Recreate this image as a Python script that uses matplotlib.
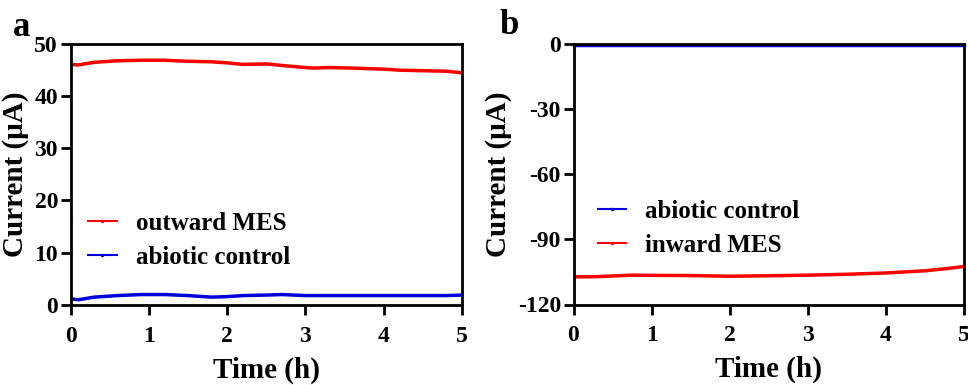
import matplotlib
matplotlib.use("Agg")
import matplotlib.pyplot as plt
from matplotlib.lines import Line2D

plt.rcParams['font.family'] = ['Liberation Serif', 'DejaVu Serif']
plt.rcParams['font.weight'] = 'bold'
plt.rcParams['axes.unicode_minus'] = False

# Panel a data
time_a = [0, 0.1, 0.3, 0.6, 0.9, 1.2, 1.5, 1.8, 2.0, 2.2, 2.5, 2.7, 3.0, 3.1, 3.3, 3.6, 4.0, 4.2, 4.5, 4.8, 5.0]
outward_mes = [46.0, 45.9, 46.4, 46.7, 46.8, 46.8, 46.6, 46.5, 46.3, 46.0, 46.1, 45.8, 45.4, 45.3, 45.4, 45.3, 45.1, 44.9, 44.8, 44.7, 44.4]
abiotic_a = [1.2, 1.0, 1.5, 1.8, 2.0, 2.0, 1.8, 1.5, 1.6, 1.8, 1.9, 2.0, 1.8, 1.8, 1.8, 1.8, 1.8, 1.8, 1.8, 1.8, 1.9]

# Panel b data
time_b = [0, 0.3, 0.75, 1.0, 1.5, 2.0, 2.5, 3.0, 3.5, 4.0, 4.5, 4.8, 5.0]
inward_mes = [-107.3, -107.2, -106.5, -106.6, -106.7, -107.0, -106.8, -106.5, -106.1, -105.5, -104.5, -103.4, -102.5]
abiotic_b = [-0.5, -0.5, -0.5, -0.5, -0.5, -0.5, -0.5, -0.5, -0.5, -0.5, -0.5, -0.5, -0.5]

x_ticks = [0, 1, 2, 3, 4, 5]
y_ticks_a = [0, 10, 20, 30, 40, 50]
y_ticks_b = [-120, -90, -60, -30, 0]

RED = '#ff0000'
BLUE = '#0000dd'

fig = plt.figure(figsize=(9.68, 3.85), dpi=100)
W, H = 968, 385
ax1 = fig.add_axes([70.5 / W, 1 - 305 / H, (462 - 70.5) / W, (305 - 43.5) / H])
ax2 = fig.add_axes([573.5 / W, 1 - 304.5 / H, (964 - 573.5) / W, (304.5 - 43.5) / H])

ax1.plot(time_a, outward_mes, color=RED, lw=2.5)
ax1.plot(time_a, abiotic_a, color=BLUE, lw=2.5)
ax2.plot(time_b, abiotic_b, color=BLUE, lw=2.5, clip_on=False, zorder=1)
ax2.plot(time_b, inward_mes, color=RED, lw=2.5)

ax1.set_xlim(0, 5)
ax1.set_ylim(0, 50)
ax1.set_yticks(y_ticks_a)
ax2.set_xlim(0, 5)
ax2.set_ylim(-120, 0)
ax2.set_yticks(y_ticks_b)

for ax in (ax1, ax2):
    ax.set_xticks(x_ticks)
    for s in ax.spines.values():
        s.set_linewidth(2)
    ax.tick_params(direction='out', length=7, width=2, labelsize=17)
    ax.tick_params(axis='x', pad=8)
    ax.tick_params(axis='y', pad=2)
    for lbl in ax.get_xticklabels() + ax.get_yticklabels():
        lbl.set_fontweight('bold')
    ax.set_xlabel('Time (h)', fontsize=21, fontweight='bold', labelpad=7)
    ax.set_ylabel('Current (μA)', fontsize=21, fontweight='bold', labelpad=4)

h_out = Line2D([0, 1, 2], [0, 0, 0], color=RED, lw=1.5, marker='.', markersize=3, markevery=[1])
h_ab = Line2D([0, 1, 2], [0, 0, 0], color=BLUE, lw=1.5, marker='.', markersize=3, markevery=[1])

leg_kw = dict(frameon=False, loc='center left', handlelength=1.15, handletextpad=0.75,
              labelspacing=0.45, borderpad=0, borderaxespad=0,
              prop={'weight': 'bold', 'size': 18})
ax1.legend([h_out, h_ab], ['outward MES', 'abiotic control'],
           bbox_to_anchor=(17.5 / 391.5, (305 - 240.5) / 261.5), **leg_kw)
ax2.legend([h_ab, h_out], ['abiotic control', 'inward MES'],
           bbox_to_anchor=(24 / 390.5, (304.5 - 228.5) / 261), **leg_kw)

fig.text(13 / W, 1 - 27 / H, 'a', fontsize=25, fontweight='bold', va='center')
fig.text(500 / W, 1 - 25 / H, 'b', fontsize=25, fontweight='bold', va='center')

fig.savefig('out.png', dpi=100)
